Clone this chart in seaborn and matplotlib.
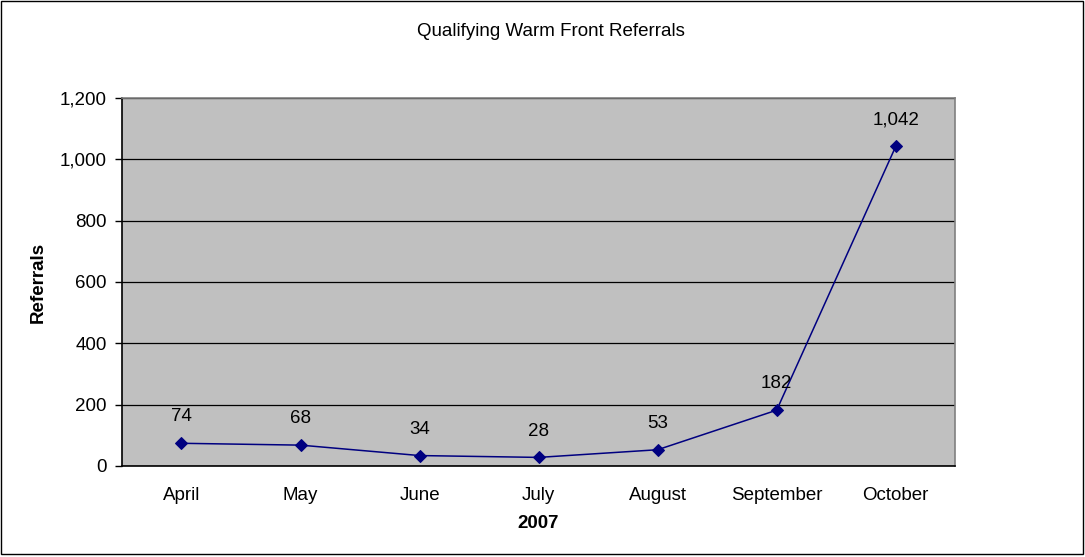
import matplotlib
matplotlib.use("Agg")
import matplotlib.pyplot as plt
import seaborn as sns
import pandas as pd
from matplotlib.patches import Rectangle
from matplotlib.ticker import FuncFormatter, FixedLocator

months = ["April", "May", "June", "July", "August", "September", "October"]
referrals = [74, 68, 34, 28, 53, 182, 1042]

sns.set_style("white")
plt.rcParams["font.family"] = ["Liberation Sans", "DejaVu Sans"]
fs = 13.5

df = pd.DataFrame({"month": months, "referrals": referrals})
df["pos"] = range(len(months))

fig = plt.figure(figsize=(10.85, 5.57), dpi=100)
ax = fig.add_axes([0.1124, 0.1634, 0.768, 0.6607])
ax.set_facecolor("#C0C0C0")

sns.lineplot(data=df, x="pos", y="referrals", ax=ax, color="#000080",
             marker="D", markersize=6, markeredgecolor="#000080", linewidth=1.1)

for x, y in zip(df["pos"], df["referrals"]):
    ax.annotate(f"{y:,}", (x, y), xytext=(0, 19), textcoords="offset points",
                ha="center", va="center", fontsize=fs, color="black")

ax.set_xlim(-0.5, len(months) - 0.5)
ax.set_ylim(0, 1200)
ax.set_yticks(range(0, 1201, 200))
ax.yaxis.set_major_formatter(FuncFormatter(lambda v, p: f"{int(v):,}"))
ax.yaxis.grid(True, color="black", linewidth=0.9)
ax.set_axisbelow(True)

ax.set_xticks(df["pos"])
ax.set_xticklabels(months)
ax.xaxis.set_minor_locator(FixedLocator([i - 0.5 for i in range(len(months) + 1)]))
ax.tick_params(axis="x", which="major", length=0, pad=15, labelsize=fs, labelcolor="black")
ax.tick_params(axis="x", which="minor", length=5, width=1, color="black", direction="out")
ax.tick_params(axis="y", length=5, width=1, color="black", direction="out", pad=6,
               labelsize=fs, labelcolor="black")
ax.tick_params(left=True, bottom=True)

for side in ["left", "bottom"]:
    ax.spines[side].set_color("black")
    ax.spines[side].set_linewidth(1.2)
for side in ["top", "right"]:
    ax.spines[side].set_visible(True)
    ax.spines[side].set_color("#808080")
    ax.spines[side].set_linewidth(1.2)

ax.set_xlabel("2007", fontsize=fs, fontweight="bold", labelpad=8, color="black")
ax.set_ylabel("Referrals", fontsize=fs, fontweight="bold", labelpad=9, color="black")
fig.text(0.508, 0.943, "Qualifying Warm Front Referrals", ha="center", va="center",
         fontsize=fs, color="black")

fig.patches.append(Rectangle((0.001, 0.006), 0.997, 0.992, transform=fig.transFigure,
                             fill=False, edgecolor="black", linewidth=1))

fig.savefig("out.png", dpi=100)
